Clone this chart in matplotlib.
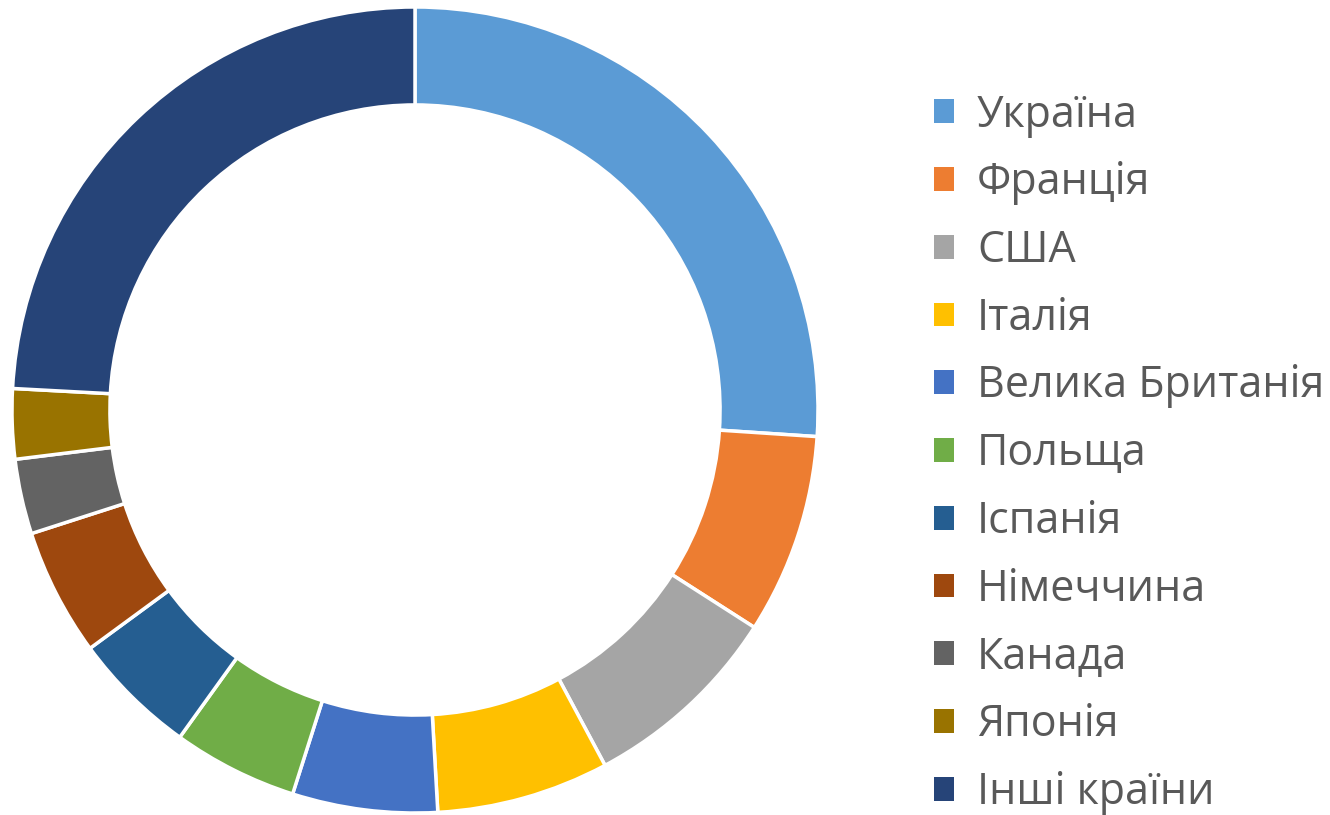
import matplotlib.pyplot as plt

countries = ["Україна", "Франція", "США", "Італія", "Велика Британія", "Польща",
             "Іспанія", "Німеччина", "Канада", "Японія", "Інші країни"]
shares = [26.0, 8.0, 8.1, 6.9, 5.8, 5.0, 5.0, 5.1, 3.0, 2.8, 24.1]
colors = ["#5B9BD5", "#ED7D31", "#A5A5A5", "#FFC000", "#4472C4", "#70AD47",
          "#255E91", "#9E480E", "#636363", "#997300", "#264478"]

plt.rcParams['font.family'] = ['Open Sans', 'DejaVu Sans']

fig = plt.figure(figsize=(13.3, 8.15), dpi=100)
ax = fig.add_axes([12 / 1330, 2 / 815, 806 / 1330, 806 / 815])

wedges, _ = ax.pie(shares, colors=colors, startangle=90, counterclock=False,
                   radius=1.0,
                   wedgeprops=dict(width=0.243, edgecolor="white", linewidth=2.5))
ax.set_xlim(-1, 1)
ax.set_ylim(-1, 1)
ax.set_aspect("equal")
ax.axis("off")

leg = fig.legend(wedges, countries, loc="upper left",
                 bbox_to_anchor=(934 / 1330, 1 - 93 / 815),
                 frameon=False, fontsize=31, labelcolor="#595959",
                 handlelength=0.47, handleheight=0.47, handletextpad=0.53,
                 labelspacing=0.54, borderpad=0, borderaxespad=0)
for h in leg.legend_handles:
    h.set_edgecolor("none")

fig.savefig("out.png", dpi=100)
